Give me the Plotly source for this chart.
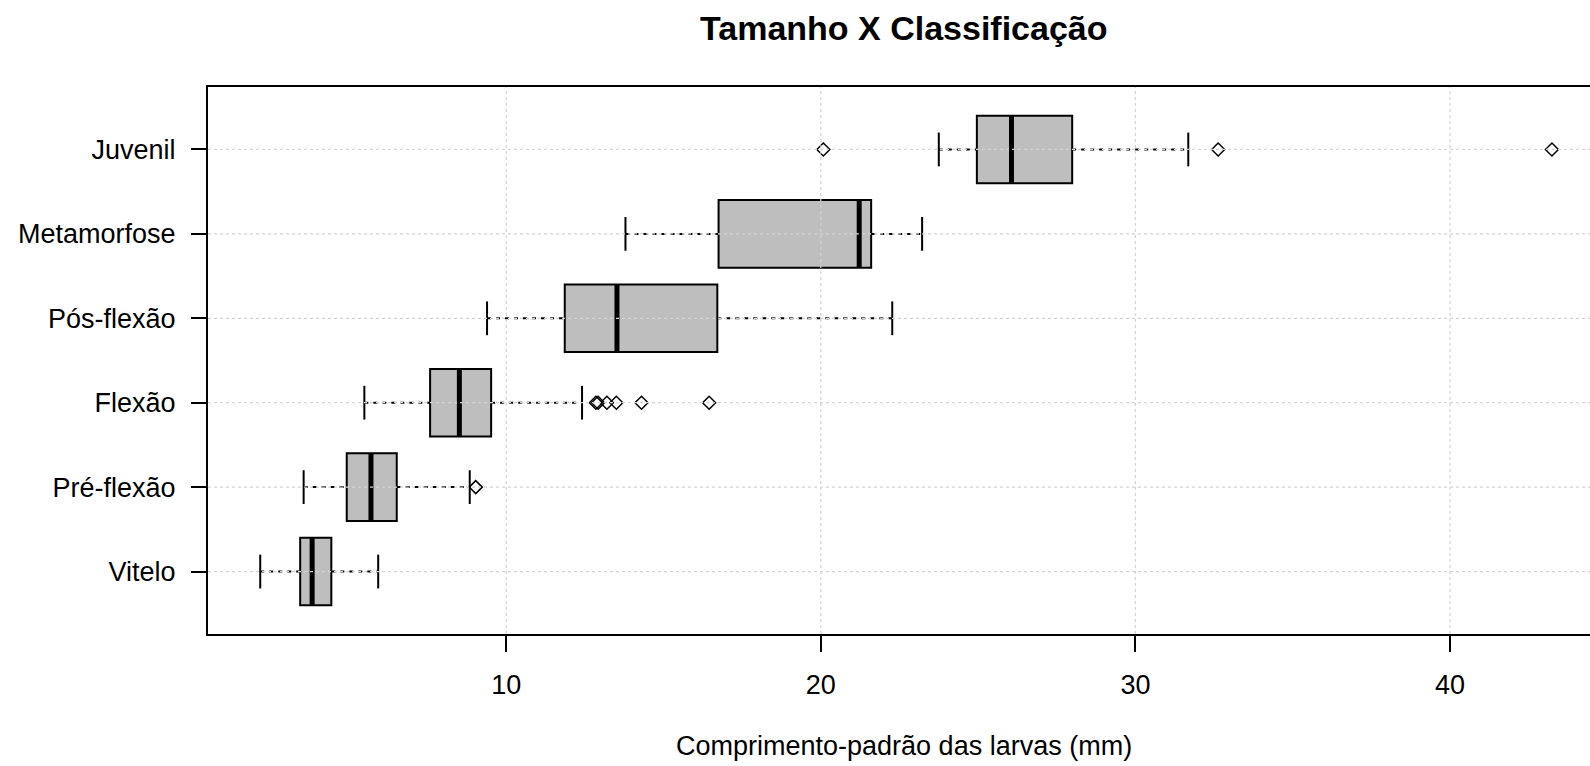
import plotly.graph_objects as go

# ---- data ----
categories = ["Vitelo", "Pré-flexão", "Flexão", "Pós-flexão", "Metamorfose", "Juvenil"]
lower_whisker = [2.18, 3.56, 5.49, 9.39, 13.79, 23.75]
q1_values = [3.45, 4.93, 7.58, 11.86, 16.75, 24.96]
median_values = [3.83, 5.70, 8.51, 13.52, 21.22, 26.06]
q3_values = [4.44, 6.52, 9.52, 16.71, 21.60, 27.99]
upper_whisker = [5.93, 8.84, 12.41, 22.27, 23.22, 31.68]
outliers = {
    "Pré-flexão": [9.03],
    "Flexão": [12.85, 12.92, 13.2, 13.5, 14.3, 16.45],
    "Juvenil": [20.08, 32.63, 43.24],
}
x_ticks = [10, 20, 30, 40]

title_text = "Tamanho X Classificação"
x_title = "Comprimento-padrão das larvas (mm)"

FONT = "Liberation Sans, Arial, sans-serif"
positions = list(range(1, len(categories) + 1))
BOXW = 0.8
STAPLE = 0.2

fig = go.Figure()

# boxes
fig.add_trace(go.Box(
    y=positions, q1=q1_values, median=median_values, q3=q3_values,
    lowerfence=q1_values, upperfence=q3_values,
    orientation="h", width=BOXW, whiskerwidth=0,
    fillcolor="#BEBEBE", line=dict(color="black", width=2),
    boxpoints=False, hoverinfo="skip", showlegend=False,
))

# whiskers (dashed)
wx, wy = [], []
for p, lo, a, b, hi in zip(positions, lower_whisker, q1_values, q3_values, upper_whisker):
    wx += [lo, a, None, b, hi, None]
    wy += [p, p, None, p, p, None]
fig.add_trace(go.Scatter(x=wx, y=wy, mode="lines",
                         line=dict(color="black", width=2, dash="4px,5px"),
                         hoverinfo="skip", showlegend=False))

# staples
sx, sy = [], []
for p, lo, hi in zip(positions, lower_whisker, upper_whisker):
    sx += [lo, lo, None, hi, hi, None]
    sy += [p - STAPLE, p + STAPLE, None, p - STAPLE, p + STAPLE, None]
fig.add_trace(go.Scatter(x=sx, y=sy, mode="lines",
                         line=dict(color="black", width=2),
                         hoverinfo="skip", showlegend=False))

# medians (thick)
mx, my = [], []
for p, m in zip(positions, median_values):
    mx += [m, m, None]
    my += [p - BOXW / 2, p + BOXW / 2, None]
fig.add_trace(go.Scatter(x=mx, y=my, mode="lines",
                         line=dict(color="black", width=5),
                         hoverinfo="skip", showlegend=False))

# outliers
ox, oy = [], []
for cat, vals in outliers.items():
    p = positions[categories.index(cat)]
    ox += vals
    oy += [p] * len(vals)
fig.add_trace(go.Scatter(x=ox, y=oy, mode="markers",
                         marker=dict(symbol="diamond-open", size=10, color="black",
                                     line=dict(width=1.5, color="black")),
                         hoverinfo="skip", showlegend=False))

# grid (drawn on top, like R's grid())
shapes = []
for t in x_ticks:
    shapes.append(dict(type="line", xref="x", yref="paper", x0=t, x1=t, y0=0, y1=1,
                       line=dict(color="#D3D3D3", width=1.2, dash="dot"), layer="above"))
for p in positions:
    shapes.append(dict(type="line", xref="paper", yref="y", x0=0, x1=1, y0=p, y1=p,
                       line=dict(color="#D3D3D3", width=1.2, dash="dot"), layer="above"))

fig.update_layout(
    width=1590, height=766,
    margin=dict(l=208, r=0, t=87, b=132),
    paper_bgcolor="white", plot_bgcolor="white",
    font=dict(family=FONT, size=27, color="black"),
    shapes=shapes,
    annotations=[
        dict(text="<b>" + title_text + "</b>", xref="paper", yref="paper",
             x=0.5036, y=1.108, xanchor="center", yanchor="middle",
             showarrow=False, font=dict(size=34, family=FONT, color="black")),
        dict(text=x_title, xref="paper", yref="paper",
             x=0.5036, y=-0.2048, xanchor="center", yanchor="middle",
             showarrow=False, font=dict(size=27, family=FONT, color="black")),
    ],
    xaxis=dict(range=[0.52, 44.45], tickvals=x_ticks, ticktext=[str(t) for t in x_ticks],
               showgrid=False, zeroline=False,
               showline=True, linecolor="black", linewidth=2, mirror=True,
               ticks="outside", ticklen=16, tickwidth=1.5, tickcolor="black",
               ticklabelstandoff=10),
    yaxis=dict(range=[0.26, 6.74], tickvals=positions, ticktext=categories,
               showgrid=False, zeroline=False,
               showline=True, linecolor="black", linewidth=2, mirror=False,
               ticks="outside", ticklen=15, tickwidth=1.5, tickcolor="black",
               ticklabelstandoff=10),
)

fig.write_html("out.html", config={"displayModeBar": False},
               post_script="document.body.style.margin='0px';document.body.style.overflow='hidden';")
